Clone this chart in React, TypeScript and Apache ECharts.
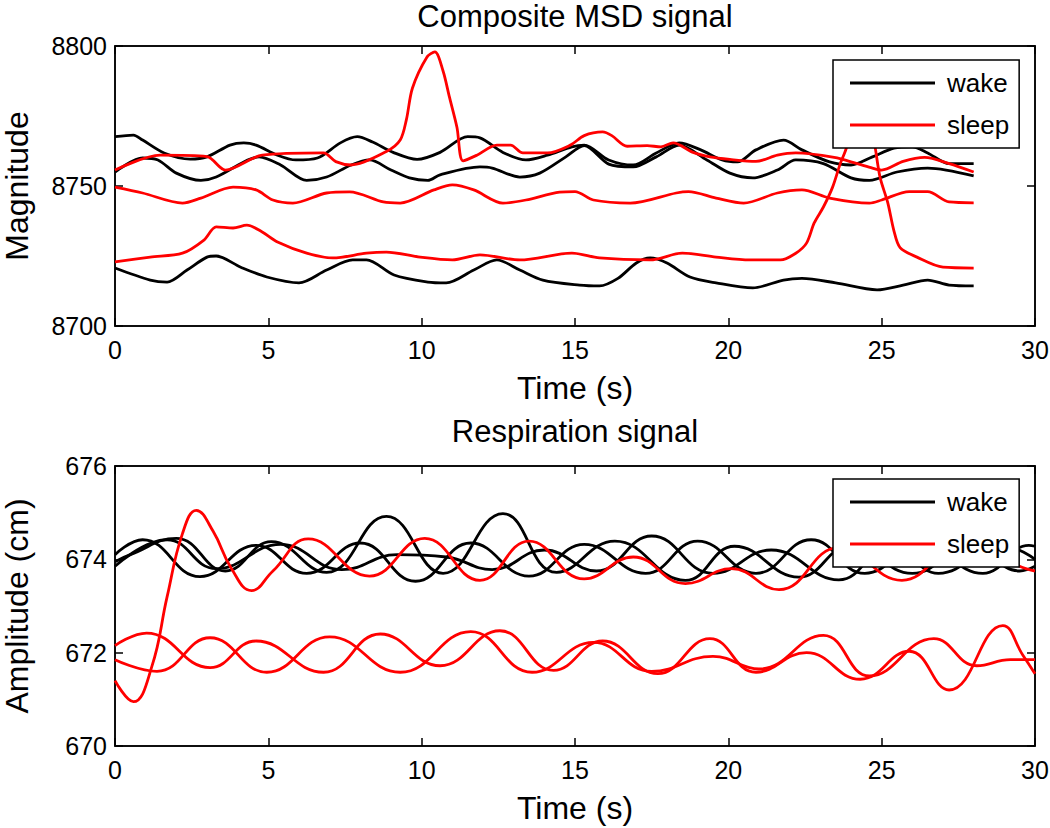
import React, { useEffect, useRef } from "react";
import * as echarts from "echarts";

const FONT = "'Liberation Sans', Arial, Helvetica, sans-serif";

// ---------- Composite MSD signal (time s, magnitude) ----------
const msdTicksX = [0, 5, 10, 15, 20, 25, 30];
const msdYRange = [8700, 8800];

const msdWake1: number[][] = [
  [0, 8767.6], [0.6, 8768.2], [0.9, 8766.4], [1.6, 8761.8], [2.45, 8759.6], [3.0, 8760.4],
  [3.75, 8764.6], [4.2, 8765.4], [4.6, 8764.6], [5.3, 8761], [5.9, 8759.3], [6.6, 8760],
  [7.35, 8765.4], [7.9, 8767.6], [8.4, 8765.7], [9.07, 8762], [9.85, 8759.5], [10.6, 8762],
  [11.5, 8767.6], [11.9, 8767.2], [12.65, 8762], [13.4, 8759.3], [14.1, 8761], [14.9, 8764],
  [15.3, 8764.6], [16.1, 8759.3], [16.9, 8757.5], [17.65, 8761.8], [18.4, 8765.4], [19.1, 8762.9],
  [19.8, 8759.3], [20.3, 8758.6], [20.9, 8762.9], [21.8, 8766.4], [22.4, 8762.9], [23.3, 8758.6],
  [24.0, 8757.5], [24.7, 8760.4], [25.4, 8763.5], [26.0, 8764], [26.5, 8761.8], [27.2, 8758], [28, 8758],
];
const msdWake2: number[][] = [
  [0, 8755], [0.9, 8760], [1.4, 8759.3], [2.0, 8754.6], [2.8, 8752], [3.3, 8753.2], [4.2, 8758.6],
  [4.7, 8760.4], [5.4, 8757.5], [6.25, 8752], [6.9, 8753.2], [7.7, 8757.5], [8.3, 8759.3],
  [9.0, 8755.7], [9.6, 8752.9], [10.2, 8752], [10.6, 8754], [11.9, 8756.8], [12.3, 8756.4],
  [13.2, 8753.2], [13.85, 8754.6], [14.7, 8760.4], [15.3, 8764.4], [16.1, 8757.8], [16.9, 8756.8],
  [17.65, 8760.4], [18.4, 8764.6], [19.3, 8759.3], [20.05, 8754.6], [20.8, 8752.9], [21.6, 8755.7],
  [22.2, 8759.3], [23.1, 8758], [24.0, 8752.9], [24.6, 8752], [25.5, 8755], [26.5, 8756.4], [28, 8753.6],
];
const msdWake3: number[][] = [
  [0, 8720.7], [1.15, 8716.4], [1.7, 8715.7], [2.35, 8720], [3.0, 8724.6], [3.3, 8725], [4.1, 8721],
  [4.95, 8717.5], [6.0, 8715.4], [6.9, 8720], [7.75, 8723.6], [8.2, 8723.6], [9.1, 8718.2],
  [10.2, 8715.7], [10.8, 8715.4], [11.7, 8720], [12.45, 8723.6], [13.2, 8720], [13.95, 8716.4],
  [15.15, 8714.6], [15.8, 8714.3], [16.4, 8717], [17.0, 8722.5], [17.45, 8724.3], [18.0, 8722.5],
  [18.75, 8717.5], [19.6, 8715.4], [20.8, 8713.6], [21.8, 8716.4], [22.4, 8717], [23.5, 8715.4],
  [24.85, 8712.9], [25.7, 8714.6], [26.5, 8716.4], [27.2, 8714.6], [28, 8714.3],
];
const msdSleep1: number[][] = [
  [0, 8755.7], [1.47, 8761], [3.0, 8760.5], [3.6, 8755.7], [4.8, 8761], [6.8, 8761.8], [7.2, 8758.7],
  [7.7, 8757.5], [8.85, 8762.3], [9.3, 8766.4], [9.5, 8773.6], [9.7, 8785], [10.17, 8796],
  [10.43, 8797.9], [10.7, 8791], [10.9, 8782], [11.15, 8771], [11.35, 8759], [11.8, 8761],
  [12.45, 8764.6], [12.9, 8764.6], [13.3, 8761.8], [14.1, 8761.8], [14.85, 8764.6], [15.3, 8768],
  [15.9, 8769.3], [16.2, 8768], [16.7, 8764.2], [17.35, 8764.4], [17.8, 8764], [18.2, 8765.4],
  [18.85, 8762], [19.4, 8760.4], [20.05, 8759.5], [20.9, 8758.8], [21.6, 8761], [22.2, 8761.8],
  [23.45, 8760.2], [24.2, 8758], [24.7, 8756.4], [25.0, 8755.7], [25.7, 8758.8], [26.4, 8760.2],
  [27.2, 8758], [28, 8755],
];
const msdSleep2: number[][] = [
  [0, 8749.6], [0.9, 8747.5], [2.2, 8743.9], [2.8, 8745.7], [3.85, 8749.6], [4.6, 8748.6],
  [5.15, 8745], [5.8, 8743.9], [6.9, 8747.5], [7.65, 8747.9], [8.75, 8744.3], [9.3, 8743.9],
  [10.4, 8748.6], [11.0, 8750.4], [11.7, 8748.6], [12.65, 8743.9], [13.4, 8745], [14.5, 8747.8],
  [15.0, 8748], [15.6, 8745], [16.8, 8743.9], [18.3, 8747.5], [18.7, 8748], [19.6, 8745.7],
  [20.5, 8743.9], [21.6, 8747.5], [22.4, 8748.6], [23.3, 8745.7], [24.6, 8743.9], [25.0, 8745],
  [25.9, 8748], [26.5, 8748], [27.2, 8744.3], [28, 8744],
];
const msdSleep3: number[][] = [
  [0, 8722.9], [1.15, 8724.6], [2.2, 8726], [2.9, 8730.7], [3.3, 8735.4], [3.85, 8735], [4.3, 8736],
  [4.8, 8733.6], [5.3, 8730], [6.25, 8726], [7.1, 8724.3], [8.2, 8726], [8.85, 8726.4],
  [9.95, 8724.6], [11.0, 8723.6], [11.9, 8725.4], [13.2, 8723.6], [14.9, 8726], [15.8, 8724.3],
  [17.45, 8723.6], [18.5, 8726], [19.6, 8724.6], [20.7, 8723.6], [21.7, 8723.6], [22.2, 8726],
  [22.55, 8729.6], [22.8, 8736.8], [23.1, 8742.5], [23.4, 8749.6], [23.65, 8758], [23.85, 8763.6],
  [24.2, 8780], [24.5, 8784], [24.8, 8763], [24.95, 8753], [25.2, 8744], [25.4, 8734], [25.6, 8728],
  [26.15, 8724.6], [27.0, 8721], [28, 8720.7],
];

// ---------- Respiration signal (time s, amplitude cm) ----------
const respYRange = [670, 676];

const respWake1: number[][] = [
  [0, 673.95], [0.5, 674.1], [2.0, 674.45], [3.6, 673.75], [5.1, 674.38], [6.9, 673.72],
  [8.85, 674.92], [10.7, 673.7], [12.65, 674.98], [14.4, 673.72], [16.3, 674.39], [18.6, 673.55],
  [20.2, 674.28], [22.3, 673.62], [24.0, 674.3], [26.0, 673.7], [27.9, 674.3], [29.5, 673.75], [30, 673.85],
];
const respWake2: number[][] = [
  [0, 674.1], [0.9, 674.42], [2.77, 673.63], [4.6, 674.3], [6.25, 673.7], [8.0, 674.35],
  [9.8, 673.53], [11.6, 674.35], [13.5, 673.64], [15.3, 674.32], [17.3, 673.7], [19.0, 674.39],
  [20.9, 673.7], [22.7, 674.42], [24.45, 673.7], [26.3, 674.3], [28.3, 673.7], [29.8, 674.3], [30, 674.28],
];
const respWake3: number[][] = [
  [0, 673.85], [1.7, 674.42], [3.3, 673.8], [5.4, 674.32], [7.4, 673.78], [9.2, 674.1],
  [10.8, 674.05], [12.3, 673.78], [14.0, 674.2], [15.7, 673.75], [17.5, 674.5], [19.5, 673.7],
  [21.4, 674.2], [23.6, 673.56], [25.3, 674.3], [26.85, 673.7], [28.9, 674.3], [30, 674.0],
];
const respSleep1: number[][] = [
  [0, 671.4], [0.6, 670.95], [1.2, 671.7], [1.7, 673.2], [2.2, 674.55], [2.65, 675.05],
  [3.2, 674.6], [3.8, 673.8], [4.45, 673.33], [5.15, 673.75], [6.3, 674.44], [8.3, 673.64],
  [10.1, 674.45], [11.9, 673.55], [13.5, 674.39], [15.3, 673.58], [16.9, 674.05],
  [18.6, 673.48], [20.1, 673.8], [21.65, 673.35], [23.6, 674.25],
  [25.66, 673.55], [27.6, 674.3], [29.7, 673.8], [30, 673.75],
];
const respSleep2: number[][] = [
  [0, 672.15], [1.03, 672.42], [3.1, 671.68], [4.6, 672.25], [6.8, 671.58], [8.65, 672.4],
  [10.6, 671.72], [12.55, 672.47], [14.3, 671.62], [15.9, 672.25], [17.7, 671.55], [19.4, 672.3],
  [20.9, 671.58], [22.55, 672.0], [24.3, 671.43], [25.9, 672.03], [27.2, 671.2], [28.95, 672.58],
  [29.6, 671.95], [30, 671.55],
];
const respSleep3: number[][] = [
  [0, 671.85], [1.37, 671.6], [3.1, 672.32], [4.95, 671.58], [7.0, 672.34], [9.3, 671.58],
  [11.6, 672.45], [13.6, 671.58], [15.6, 672.22], [17.5, 671.6], [19.5, 671.92], [21.0, 671.65],
  [23.1, 672.37], [24.6, 671.5], [26.7, 672.3], [28.1, 671.72], [29.2, 671.85], [30, 671.85],
];

const legendNames = ["wake", "sleep"];
const WAKE = "#000000";
const SLEEP = "#ff0000";

const GRID_LEFT = 115;
const GRID_W = 920;
const GRID_H = 280;
const TOPS = [46, 466];

function xAxisFor(gridIndex: number, mirror: boolean) {
  return {
    type: "value",
    gridIndex,
    position: mirror ? "top" : "bottom",
    min: msdTicksX[0],
    max: msdTicksX[msdTicksX.length - 1],
    interval: 5,
    axisLine: { show: true, onZero: false, lineStyle: { color: "#000", width: 1.5 } },
    axisTick: { show: true, inside: true, length: 8, lineStyle: { color: "#000", width: 1.5 } },
    axisLabel: mirror
      ? { show: false }
      : { show: true, fontSize: 25, color: "#000", margin: 11, fontFamily: FONT },
    splitLine: { show: false },
    name: mirror ? "" : "Time (s)",
    nameLocation: "middle",
    nameGap: 46,
    nameTextStyle: { fontSize: 32, color: "#000", fontFamily: FONT },
  };
}

function yAxisFor(gridIndex: number, mirror: boolean, range: number[], interval: number, name: string) {
  return {
    type: "value",
    gridIndex,
    position: mirror ? "right" : "left",
    min: range[0],
    max: range[1],
    interval,
    axisLine: { show: true, onZero: false, lineStyle: { color: "#000", width: 1.5 } },
    axisTick: { show: true, inside: true, length: 8, lineStyle: { color: "#000", width: 1.5 } },
    axisLabel: mirror
      ? { show: false }
      : {
          show: true,
          fontSize: 25,
          color: "#000",
          margin: 8,
          fontFamily: FONT,
          formatter: (v: number) => String(v),
        },
    splitLine: { show: false },
    name: mirror ? "" : name,
    nameLocation: "middle",
    nameGap: 82,
    nameTextStyle: { fontSize: 32, color: "#000", fontFamily: FONT },
  };
}

function line(name: string, data: number[][], color: string, axis: number, smooth: number) {
  return {
    type: "line",
    name,
    data,
    xAxisIndex: axis,
    yAxisIndex: axis,
    symbol: "none",
    smooth,
    silent: true,
    lineStyle: { color, width: 2.8 },
    itemStyle: { color },
  };
}

function legendAt(top: number) {
  return {
    data: legendNames,
    orient: "vertical",
    left: 833,
    top,
    icon: "rect",
    itemWidth: 85,
    itemHeight: 3,
    itemGap: 14,
    padding: [9, 10, 9, 17],
    backgroundColor: "#ffffff",
    borderColor: "#000",
    borderWidth: 1.5,
    selectedMode: false,
    textStyle: { fontSize: 26, color: "#000", fontFamily: FONT, lineHeight: 28, padding: [0, 0, 0, 7] },
  };
}

export default function App() {
  const ref = useRef<HTMLDivElement>(null);
  useEffect(() => {
    document.body.style.margin = "0";
    const chart = echarts.init(ref.current as HTMLDivElement, null, { renderer: "svg" });
    const option = {
      animation: false,
      backgroundColor: "#ffffff",
      title: [
        {
          text: "Composite MSD signal",
          left: GRID_LEFT + GRID_W / 2,
          top: 1,
          padding: 0,
          textAlign: "center",
          textStyle: { fontSize: 31, fontWeight: "normal", color: "#000", fontFamily: FONT },
        },
        {
          text: "Respiration signal",
          left: GRID_LEFT + GRID_W / 2,
          top: 416,
          padding: 0,
          textAlign: "center",
          textStyle: { fontSize: 31, fontWeight: "normal", color: "#000", fontFamily: FONT },
        },
      ],
      grid: TOPS.map((t) => ({
        left: GRID_LEFT,
        top: t,
        width: GRID_W,
        height: GRID_H,
        show: true,
        borderColor: "#000",
        borderWidth: 1.5,
        backgroundColor: "#fff",
        containLabel: false,
        outerBoundsMode: "none",
      })),
      xAxis: [xAxisFor(0, false), xAxisFor(0, true), xAxisFor(1, false), xAxisFor(1, true)],
      yAxis: [
        yAxisFor(0, false, msdYRange, 50, "Magnitude"),
        yAxisFor(0, true, msdYRange, 50, ""),
        yAxisFor(1, false, respYRange, 2, "Amplitude (cm)"),
        yAxisFor(1, true, respYRange, 2, ""),
      ],
      legend: [legendAt(60), legendAt(479)],
      series: [
        line("wake", msdWake1, WAKE, 0, 0.3),
        line("wake", msdWake2, WAKE, 0, 0.3),
        line("wake", msdWake3, WAKE, 0, 0.3),
        line("sleep", msdSleep1, SLEEP, 0, 0.3),
        line("sleep", msdSleep2, SLEEP, 0, 0.3),
        line("sleep", msdSleep3, SLEEP, 0, 0.3),
        line("wake", respWake1, WAKE, 2, 0.45),
        line("wake", respWake2, WAKE, 2, 0.45),
        line("wake", respWake3, WAKE, 2, 0.45),
        line("sleep", respSleep1, SLEEP, 2, 0.45),
        line("sleep", respSleep2, SLEEP, 2, 0.45),
        line("sleep", respSleep3, SLEEP, 2, 0.45),
      ],
    };
    chart.setOption(option as any);
    return () => chart.dispose();
  }, []);
  return <div ref={ref} style={{ width: 1050, height: 828 }} />;
}
